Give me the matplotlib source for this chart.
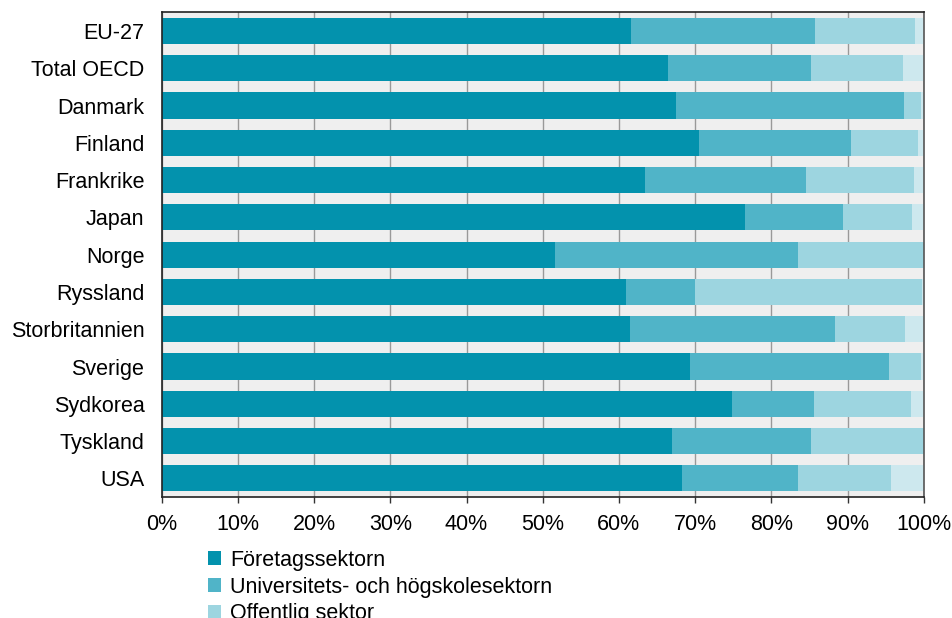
import numpy as np
import matplotlib.pyplot as plt

plt.rcParams['font.family'] = ['Liberation Sans', 'DejaVu Sans']

# Data (share of R&D by performing sector, %)
countries = ["EU-27", "Total OECD", "Danmark", "Finland", "Frankrike", "Japan", "Norge",
             "Ryssland", "Storbritannien", "Sverige", "Sydkorea", "Tyskland", "USA"]
foretag = [61.6, 66.4, 67.5, 70.5, 63.4, 76.5, 51.6, 60.9, 61.5, 69.3, 74.8, 67.0, 68.3]
univ = [24.1, 18.8, 29.9, 20.0, 21.2, 12.9, 31.9, 9.1, 26.9, 26.1, 10.8, 18.2, 15.2]
offentlig = [13.2, 12.1, 2.2, 8.8, 14.1, 9.1, 16.5, 29.8, 9.2, 4.3, 12.7, 14.8, 12.2]
privat = [1.1, 2.7, 0.4, 0.7, 1.3, 1.5, 0.0, 0.2, 2.4, 0.3, 1.7, 0.0, 4.3]

series = [foretag, univ, offentlig, privat]
labels = ["Företagssektorn", "Universitets- och högskolesektorn", "Offentlig sektor",
          "Privat icke-vinstdrivande sektor"]
colors = ["#0392ad", "#50b4c8", "#9dd5e0", "#cde8ee"]

fig = plt.figure(figsize=(9.53, 6.18), dpi=100)
ax = fig.add_axes([0.1697, 0.1958, 0.7996, 0.7843])
ax.set_facecolor("#efefef")

y = np.arange(len(countries))
left = np.zeros(len(countries))
handles = []
for vals, lab, col in zip(series, labels, colors):
    vals = np.array(vals)
    b = ax.barh(y, vals, left=left, height=0.7, color=col, label=lab, zorder=2)
    handles.append(b)
    left += vals

ax.set_ylim(len(countries) - 0.5, -0.5)
ax.set_xlim(0, 100)
ax.set_xticks(np.arange(0, 101, 10))
ax.set_xticklabels([f"{v}%" for v in range(0, 101, 10)])
ax.set_yticks(y)
ax.set_yticklabels(countries)
ax.xaxis.grid(True, color="#999999", linewidth=1.0, zorder=1)
ax.set_axisbelow(True)

ax.tick_params(axis="x", length=4.5, width=1, color="#333333", pad=8, labelsize=15.5)
ax.tick_params(axis="y", length=0, pad=12.5, labelsize=15.5)
for s in ["top", "bottom", "left"]:
    ax.spines[s].set_color("#222222")
    ax.spines[s].set_linewidth(1.2)
ax.spines["right"].set_color("#555555")
ax.spines["right"].set_linewidth(1.2)

# only the first three entries are visible in the original (the rest is cut off)
fig.legend(handles[:3], labels[:3], loc="upper left", bbox_to_anchor=(0.218, 0.1105),
           frameon=False, fontsize=15.5, handlelength=0.6, handleheight=0.6,
           handletextpad=0.43, labelspacing=0.27, borderpad=0, borderaxespad=0)

fig.savefig("out.png", dpi=100)
